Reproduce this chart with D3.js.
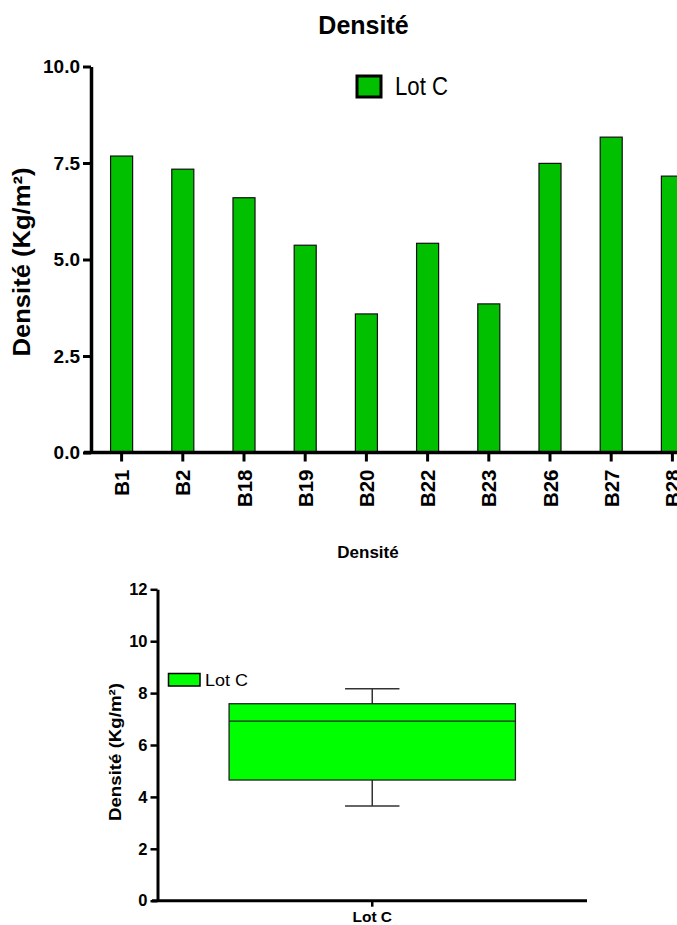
<!DOCTYPE html>
<html>
<head>
<meta charset="utf-8">
<script src="https://cdn.jsdelivr.net/npm/d3@7"></script>
<style>
  body { margin: 0; background: #fff; }
  svg { display: block; font-family: "Liberation Sans", Arial, sans-serif; }
</style>
</head>
<body>
<div id="vis"></div>
<script>
var width = 677,
    height = 925;

// bar chart data
var samples = ["B1", "B2", "B18", "B19", "B20", "B22", "B23", "B26", "B27", "B28"];
var densities = [7.68, 7.34, 6.60, 5.37, 3.59, 5.42, 3.85, 7.49, 8.17, 7.16];
var yTicksTop = [0, 2.5, 5, 7.5, 10];

// box plot data
var groups = ["Lot C"];
var boxMin = [3.65],
    boxQ1 = [4.65],
    boxMedian = [6.92],
    boxQ3 = [7.59],
    boxMax = [8.17];
var yTicksBottom = [0, 2, 4, 6, 8, 10, 12];

var svg = d3.select("#vis").append("svg")
    .attr("width", width)
    .attr("height", height);

// ---------- top: bars ----------
var x = d3.scaleBand()
    .domain(samples)
    .range([91, 91 + samples.length * 61.2])
    .paddingInner(0.64)
    .paddingOuter(0.32);

var y = d3.scaleLinear()
    .domain([0, 10])
    .range([452.5, 66.5]);

svg.append("text")
    .attr("x", 363.5)
    .attr("y", 34)
    .attr("text-anchor", "middle")
    .attr("font-weight", "bold")
    .attr("font-size", 25)
    .text("Densité");

svg.append("g")
    .selectAll("rect")
    .data(densities)
    .join("rect")
    .attr("x", (d, i) => x(samples[i]))
    .attr("y", d => y(d))
    .attr("width", x.bandwidth())
    .attr("height", d => y(0) - y(d))
    .attr("fill", "#00c000")
    .attr("stroke", "#111")
    .attr("stroke-width", 1.2);

var yAxisTop = svg.append("g")
    .attr("transform", "translate(91,0)")
    .call(d3.axisLeft(y).tickValues(yTicksTop).tickFormat(d3.format(".1f")).tickSizeInner(8).tickSizeOuter(0).tickPadding(3));

var xAxisTop = svg.append("g")
    .attr("transform", "translate(0,452.5)")
    .call(d3.axisBottom(x).tickSizeInner(9).tickSizeOuter(0));

xAxisTop.selectAll(".tick text")
    .attr("transform", "rotate(-90)")
    .attr("text-anchor", "end")
    .attr("x", -17)
    .attr("y", 0)
    .attr("dy", "0.37em")
    .attr("font-size", 20.5);

yAxisTop.selectAll(".tick text").attr("font-size", 19);

[yAxisTop, xAxisTop].forEach(function (a) {
    a.select(".domain").attr("stroke", "#000").attr("stroke-width", 3.5);
    a.selectAll(".tick line").attr("stroke", "#000").attr("stroke-width", 3);
    a.selectAll(".tick text")
        .attr("font-family", "Liberation Sans, Arial, sans-serif")
        .attr("font-weight", "bold")
        .attr("fill", "#000");
});
// extend the x axis line left under the y axis like the original
xAxisTop.select(".domain").attr("d", "M84,0H" + width);

svg.append("text")
    .attr("transform", "translate(30,262) rotate(-90)")
    .attr("text-anchor", "middle")
    .attr("font-weight", "bold")
    .attr("font-size", 24)
    .attr("textLength", 189)
    .attr("lengthAdjust", "spacingAndGlyphs")
    .text("Densité (Kg/m²)");

// legend
var legTop = svg.append("g").attr("transform", "translate(357,76)");
legTop.append("rect")
    .attr("width", 24).attr("height", 21)
    .attr("fill", "#00c000")
    .attr("stroke", "#000").attr("stroke-width", 3);
legTop.append("text")
    .attr("x", 38).attr("y", 19)
    .attr("font-size", 25)
    .attr("textLength", 53)
    .attr("lengthAdjust", "spacingAndGlyphs")
    .text("Lot C");

// ---------- bottom: box plot ----------
var bx = d3.scaleBand()
    .domain(groups)
    .range([157.5, 587])
    .paddingOuter(0.25);

var by = d3.scaleLinear()
    .domain([0, 12])
    .range([900.7, 589.3]);

svg.append("text")
    .attr("x", 368)
    .attr("y", 558)
    .attr("text-anchor", "middle")
    .attr("font-weight", "bold")
    .attr("font-size", 17)
    .text("Densité");

var box = svg.append("g")
    .selectAll("g")
    .data(groups)
    .join("g");

var capW = bx.bandwidth() * 0.19;
box.append("line")
    .attr("x1", d => bx(d) + bx.bandwidth() / 2)
    .attr("x2", d => bx(d) + bx.bandwidth() / 2)
    .attr("y1", (d, i) => by(boxMax[i]))
    .attr("y2", (d, i) => by(boxMin[i]))
    .attr("stroke", "#333").attr("stroke-width", 1.5);
box.append("line")
    .attr("x1", d => bx(d) + bx.bandwidth() / 2 - capW / 2)
    .attr("x2", d => bx(d) + bx.bandwidth() / 2 + capW / 2)
    .attr("y1", (d, i) => by(boxMax[i]))
    .attr("y2", (d, i) => by(boxMax[i]))
    .attr("stroke", "#333").attr("stroke-width", 1.5);
box.append("line")
    .attr("x1", d => bx(d) + bx.bandwidth() / 2 - capW / 2)
    .attr("x2", d => bx(d) + bx.bandwidth() / 2 + capW / 2)
    .attr("y1", (d, i) => by(boxMin[i]))
    .attr("y2", (d, i) => by(boxMin[i]))
    .attr("stroke", "#333").attr("stroke-width", 1.5);
box.append("rect")
    .attr("x", d => bx(d))
    .attr("y", (d, i) => by(boxQ3[i]))
    .attr("width", bx.bandwidth())
    .attr("height", (d, i) => by(boxQ1[i]) - by(boxQ3[i]))
    .attr("fill", "#00ff00")
    .attr("stroke", "#222").attr("stroke-width", 1.3);
box.append("line")
    .attr("x1", d => bx(d))
    .attr("x2", d => bx(d) + bx.bandwidth())
    .attr("y1", (d, i) => by(boxMedian[i]))
    .attr("y2", (d, i) => by(boxMedian[i]))
    .attr("stroke", "#222").attr("stroke-width", 1.3);

var yAxisBot = svg.append("g")
    .attr("transform", "translate(157.5,0)")
    .call(d3.axisLeft(by).tickValues(yTicksBottom).tickSizeInner(7).tickSizeOuter(0).tickPadding(3));

var xAxisBot = svg.append("g")
    .attr("transform", "translate(0,900.7)")
    .call(d3.axisBottom(bx).tickSizeInner(6).tickSizeOuter(0).tickPadding(4));

[yAxisBot, xAxisBot].forEach(function (a) {
    a.select(".domain").attr("stroke", "#000").attr("stroke-width", 3);
    a.selectAll(".tick line").attr("stroke", "#000").attr("stroke-width", 2.5);
    a.selectAll(".tick text")
        .attr("font-family", "Liberation Sans, Arial, sans-serif")
        .attr("font-weight", "bold")
        .attr("font-size", 15.5)
        .attr("fill", "#000");
});
yAxisBot.selectAll(".tick text").attr("font-size", 16.5);
xAxisBot.select(".domain").attr("d", "M152,0H587");

svg.append("text")
    .attr("transform", "translate(121,752) rotate(-90)")
    .attr("text-anchor", "middle")
    .attr("font-weight", "bold")
    .attr("font-size", 16)
    .attr("textLength", 138)
    .attr("lengthAdjust", "spacingAndGlyphs")
    .text("Densité (Kg/m²)");

var legBot = svg.append("g").attr("transform", "translate(168.5,673.5)");
legBot.append("rect")
    .attr("width", 31.5).attr("height", 12.5)
    .attr("fill", "#00ff00")
    .attr("stroke", "#000").attr("stroke-width", 1.5);
legBot.append("text")
    .attr("x", 36.5).attr("y", 12.5)
    .attr("font-size", 17)
    .attr("textLength", 43)
    .attr("lengthAdjust", "spacingAndGlyphs")
    .text("Lot C");
</script>
</body>
</html>
